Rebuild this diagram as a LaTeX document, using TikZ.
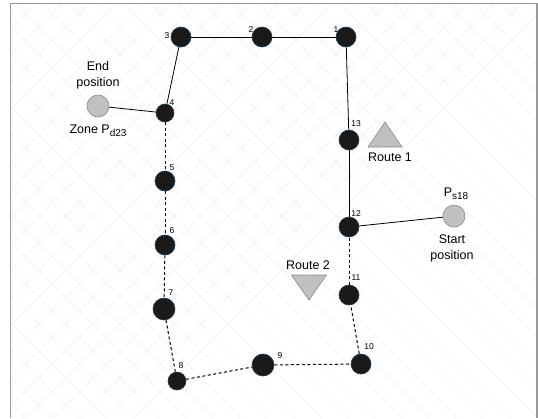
\documentclass[tikz,border=0pt]{standalone}
\usepackage{fontspec}
\setmainfont{Liberation Sans}
\usetikzlibrary{calc}
\definecolor{nodefill}{HTML}{1A1A1A}
\definecolor{nodeedge}{HTML}{1F3A4F}
\definecolor{grayfill}{HTML}{C0C0C0}
\definecolor{grayedge}{HTML}{8A8A8A}
\definecolor{gridc}{HTML}{F6F6F6}
\definecolor{framec}{HTML}{9A9A9A}
\newcommand{\subtxt}[1]{\raisebox{-3pt}{\fontsize{10}{10}\selectfont #1}}
\tikzset{
  wp/.style={circle,fill=nodefill,draw=nodeedge,line width=0.6pt,inner sep=0pt,minimum size=#1},
  wp/.default=20pt,
  endpt/.style={circle,fill=grayfill,draw=grayedge,line width=0.6pt,inner sep=0pt,minimum size=22pt},
  num/.style={font=\fontsize{8.5}{9}\selectfont,inner sep=0pt},
  lbl/.style={font=\fontsize{12.5}{16}\selectfont,inner sep=0pt,align=center},
  route/.style={line width=0.8pt,black},
  routed/.style={line width=1pt,black,dash pattern=on 3pt off 2.5pt},
  trishape/.style={fill=grayfill,draw=grayedge,line width=0.6pt,line join=round}
}
\begin{document}
\begin{tikzpicture}[x=1pt,y=-1pt]
\useasboundingbox (0,0) rectangle (538,418);
\begin{scope}
\clip (10.5,3.5) rectangle (537,418);
\fill[white] (0,0) rectangle (538,418);
\foreach \k in {-420,-393,...,560} {
  \draw[gridc,line width=1.4pt] (\k,0) -- (\k+418,418);
  \draw[gridc,line width=1.4pt] (\k,0) -- (\k-418,418);
}
\end{scope}
\draw[framec,line width=1.4pt] (10.5,418) -- (10.5,3.5) -- (537,3.5) -- (537,418);

% waypoints
\node[wp] (n1) at (346,37) {};
\node[wp] (n2) at (262,37) {};
\node[wp] (n3) at (181,37) {};
\node[wp=18pt] (n4) at (165,113) {};
\node[wp] (n5) at (165,181) {};
\node[wp] (n6) at (165,245) {};
\node[wp=22pt] (n7) at (164,309) {};
\node[wp=18pt] (n8) at (177,381) {};
\node[wp=22pt] (n9) at (263,365) {};
\node[wp] (n10) at (361,364) {};
\node[wp] (n11) at (349,295) {};
\node[wp] (n12) at (349,227) {};
\node[wp] (n13) at (349,140) {};

\node[endpt] (endp) at (98,106) {};
\node[endpt] (startp) at (454,216) {};

% connectors
\draw[route] (n1) -- (n2);
\draw[route] (n2) -- (n3);
\draw[route] (n3) -- (n4);
\draw[route] (n4) -- (endp);
\draw[route] (n1) -- (n13);
\draw[route] (n13) -- (n12);
\draw[route] (n12) -- (startp);
\draw[routed] (n4) -- (n5);
\draw[routed] (n5) -- (n6);
\draw[routed] (n6) -- (n7);
\draw[routed] (n7) -- (n8);
\draw[routed] (n8) -- (n9);
\draw[routed] (n9) -- (n10);
\draw[routed] (n10) -- (n11);
\draw[routed] (n11) -- (n12);

% numbers
\node[num] (l1) at (336,30) {1};
\node[num] (l2) at (251,30) {2};
\node[num] (l3) at (167,36) {3};
\node[num] (l4) at (172,103) {4};
\node[num] (l5) at (172,168) {5};
\node[num] (l6) at (172,231) {6};
\node[num] (l7) at (171,293) {7};
\node[num] (l8) at (181,366) {8};
\node[num] (l9) at (280,356) {9};
\node[num] (l10) at (369,347) {10};
\node[num] (l11) at (356,278) {11};
\node[num] (l12) at (356,214) {12};
\node[num] (l13) at (356,124) {13};

% labels
\node[lbl] (endlbl) at (98,75) {End\\position};
\node[lbl] (zonelbl) at (98,131) {Zone P\subtxt{d23}};
\node[lbl] (pslbl) at (456,194) {P\subtxt{s18}};
\node[lbl] (startlbl) at (452,248) {Start\\position};

% route markers
\coordinate (r1) at (385,135);
\filldraw[trishape] ($(r1)+(0,-13)$) -- ($(r1)+(17,12)$) -- ($(r1)+(-17,12)$) -- cycle;
\node[lbl] (r1lbl) at (390,157) {Route 1};
\coordinate (r2) at (309,287);
\filldraw[trishape] ($(r2)+(0,13)$) -- ($(r2)+(17.5,-12)$) -- ($(r2)+(-17.5,-12)$) -- cycle;
\node[lbl] (r2lbl) at (308,265) {Route 2};
\end{tikzpicture}
\end{document}
